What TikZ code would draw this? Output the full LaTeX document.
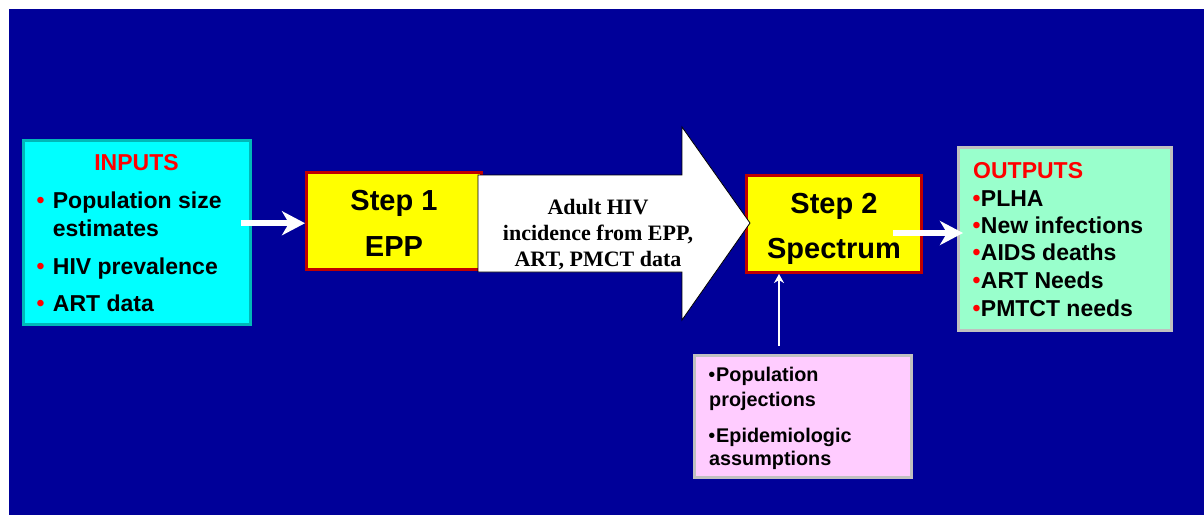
\documentclass[tikz,border=0pt]{standalone}
\usepackage{fontspec}
\setmainfont{Liberation Sans}
\newfontfamily\serifbold{Liberation Serif}
\usetikzlibrary{arrows.meta, positioning, calc}
\definecolor{slideblue}{HTML}{000099}
\definecolor{infill}{HTML}{00FFFF}
\definecolor{inborder}{HTML}{00B8B8}
\definecolor{stepfill}{HTML}{FFFF00}
\definecolor{stepborder}{HTML}{C00000}
\definecolor{outfill}{HTML}{99FFCC}
\definecolor{greyborder}{HTML}{C0C0C0}
\definecolor{pinkfill}{HTML}{FFCCFF}
\definecolor{titlered}{HTML}{FF0000}
\newcommand{\fsz}[1]{\fontsize{#1}{#1}\selectfont}

\begin{document}
\begin{tikzpicture}[x=1pt, y=-1pt,
    box/.style={rectangle, inner sep=0pt, line width=3pt},
    txt/.style={inner sep=0pt, anchor=base west, font=\bfseries\fsz{23}},
    smalltxt/.style={inner sep=0pt, anchor=base west, font=\bfseries\fsz{19.8}},
    steptxt/.style={inner sep=0pt, anchor=base, font=\bfseries\fsz{29}},
    arrtxt/.style={inner sep=0pt, anchor=base, font=\serifbold\bfseries\fsz{22}},
    bul/.style={inner sep=0pt, anchor=base, font=\fsz{24}, text=titlered},
    fat arrow/.style={draw=white, line width=5.5pt, -{Stealth[length=23pt, width=24pt, inset=7pt]}},
    thin arrow/.style={draw=white, line width=2pt, -{Stealth[length=9pt, width=10pt]}}]
  \useasboundingbox (0,0) rectangle (1204,515);
  % Slide background
  \fill[slideblue] (9,9) rectangle (1204,515);

  % Boxes
  \node[box, draw=inborder, fill=infill, minimum width=227pt, minimum height=184pt] (inputs) at (137,232.5) {};
  \node[box, draw=stepborder, fill=stepfill, minimum width=175pt, minimum height=96.5pt] (step1) at (394,221.2) {};
  \node[box, draw=stepborder, fill=stepfill, minimum width=175pt, minimum height=97pt] (step2) at (834,224) {};
  \node[box, draw=greyborder, fill=outfill, minimum width=213pt, minimum height=183pt] (outputs) at (1065,239) {};
  \node[box, draw=greyborder, fill=pinkfill, minimum width=217pt, minimum height=122pt] (assump) at (803,416.5) {};

  % Big white arrow from step 1 to step 2
  \draw[fill=white, draw=black, line width=0.8pt] (478,175) -- (682,175) -- (682,127) -- (750,223) -- (682,320) -- (682,272) -- (478,272) -- cycle;
  \node[arrtxt] (adult) at (598,214) {Adult HIV};
  \node[arrtxt] (incid) at (598,240.7) {incidence from EPP,};
  \node[arrtxt] (pmct) at (598,266.7) {ART, PMCT data};

  % Connectors
  \draw[fat arrow] ([xshift=-11pt,yshift=-2pt]inputs.east |- step1.west) -- ([yshift=-2pt]step1.west);
  \draw[fat arrow] ([xshift=-30pt,yshift=-9pt]step2.east) -- ([xshift=6pt,yshift=6pt]outputs.west);
  \draw[thin arrow] ([xshift=-24pt,yshift=8pt]assump.north) -- ([xshift=-55pt]step2.south);

  % Inputs
  \node[txt, anchor=base, text=titlered] (intitle) at (136.5,170) {INPUTS};
  \node[bul] (inb1) at (40.5,208.3) {•};
  \node[txt] (in1) at (52.7,208.3) {Population size};
  \node[txt] (in1b) at (52.7,236) {estimates};
  \node[bul] (inb2) at (40.5,274) {•};
  \node[txt] (in2) at (52.7,274) {HIV prevalence};
  \node[bul] (inb3) at (40.5,311.7) {•};
  \node[txt] (in3) at (52.7,311.7) {ART data};

  % Steps
  \node[steptxt] (s1a) at (394,210.5) {Step 1};
  \node[steptxt] (s1b) at (394,256.7) {EPP};
  \node[steptxt] (s2a) at (834,213.5) {Step 2};
  \node[steptxt] (s2b) at (834,258.3) {Spectrum};

  % Outputs
  \node[txt, text=titlered] (outtitle) at (973,178.3) {OUTPUTS};
  \node[bul] (outb1) at (976.5,206) {•};
  \node[txt] (out1) at (980.7,206) {PLHA};
  \node[bul] (outb2) at (976.5,233.3) {•};
  \node[txt] (out2) at (980.7,233.3) {New infections};
  \node[bul] (outb3) at (976.5,260.7) {•};
  \node[txt] (out3) at (980.7,260.7) {AIDS deaths};
  \node[bul] (outb4) at (976.5,288.3) {•};
  \node[txt] (out4) at (980.7,288.3) {ART Needs};
  \node[bul] (outb5) at (976.5,316) {•};
  \node[txt] (out5) at (980.7,316) {PMTCT needs};

  % Assumptions fed into Spectrum
  \node[bul, text=black, font=\fsz{20}] (asb1) at (711.8,381.5) {•};
  \node[smalltxt] (as1) at (716,381.7) {Population};
  \node[smalltxt] (as1b) at (709,406) {projections};
  \node[bul, text=black, font=\fsz{20}] (asb2) at (711.8,442.5) {•};
  \node[smalltxt] (as2) at (716,442.7) {Epidemiologic};
  \node[smalltxt] (as2b) at (709,465) {assumptions};
\end{tikzpicture}
\end{document}
